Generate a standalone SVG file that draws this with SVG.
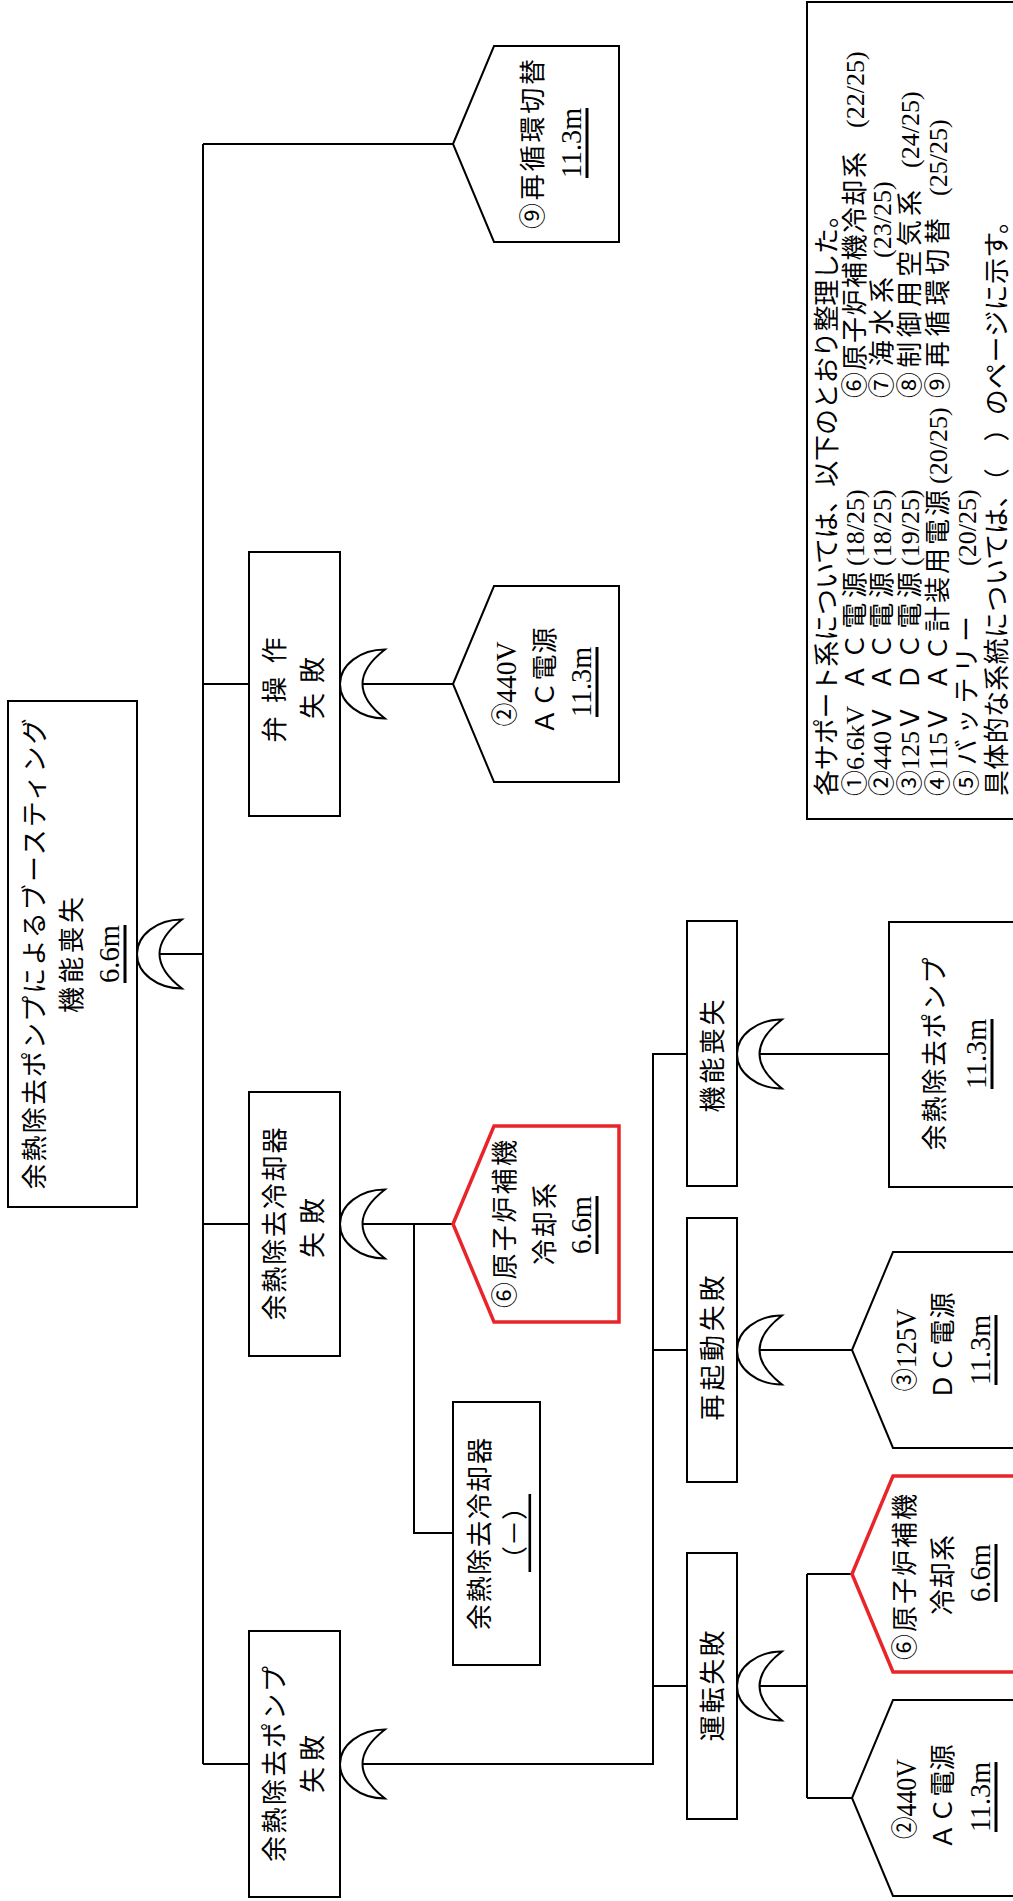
<svg xmlns="http://www.w3.org/2000/svg" width="1013" height="1901" viewBox="0 0 1013 1901">
<style>
.bx{fill:#fff;stroke:#000;stroke-width:2}
.red{fill:#fff;stroke:#e8262a;stroke-width:3.5;stroke-linejoin:miter}
.gate{fill:#fff;stroke:#000;stroke-width:2}
.cn path{fill:none;stroke:#000;stroke-width:2}
text{font-family:"Liberation Serif","Noto Sans CJK JP",serif;fill:#000;dominant-baseline:central}
.n{font-size:26px;text-anchor:middle}
.num{font-size:30px;text-anchor:middle}
.lg{font-size:26px;text-anchor:start}
.u{text-decoration:underline}
</style>
<defs>
<path id="or" class="gate" d="M45,-34.5 A45,34.5 0 0 0 45,34.5 Q0,0 45,-34.5 Z"/>
</defs>
<rect width="1013" height="1901" fill="#fff"/>

<g id="connectors" class="cn">
<path d="M203,144 V1764"/>
<path d="M203,144 H453"/>
<path d="M203,684 H249"/>
<path d="M160,954 H203"/>
<path d="M203,1224 H249"/>
<path d="M203,1764 H249"/>
<path d="M362,684 H453"/>
<path d="M362,1224 H453"/>
<path d="M414,1224 V1533 H453"/>
<path d="M362,1764 H653 V1054 H687"/>
<path d="M653,1350 H687"/>
<path d="M653,1686 H687"/>
<path d="M759,1054 H889"/>
<path d="M759,1350 H852"/>
<path d="M759,1686 H807"/>
<path d="M807,1574 V1798"/>
<path d="M807,1574 H852"/>
<path d="M807,1798 H852"/>
</g>

<g id="top-event">
<rect class="bx" x="8" y="701" width="129" height="506"/>
<use href="#or" transform="translate(137,954)"/>
<text class="n" transform="translate(35,954) rotate(-90)" textLength="471" lengthAdjust="spacing">余熱除去ポンプによるブースティング</text>
<text class="n" transform="translate(72,955) rotate(-90)" textLength="116" lengthAdjust="spacing">機能喪失</text>
<text class="num u" transform="translate(108,954) rotate(-90)" textLength="58" lengthAdjust="spacingAndGlyphs">6.6m</text>
</g>

<g id="valve-failure">
<rect class="bx" x="249" y="552" width="91" height="264"/>
<use href="#or" transform="translate(340,684)"/>
<text class="n" transform="translate(275,690) rotate(-90)" textLength="105" lengthAdjust="spacing">弁操作</text>
<text class="n" transform="translate(313,688) rotate(-90)" textLength="62" lengthAdjust="spacing">失敗</text>
</g>

<g id="cooler-failure">
<rect class="bx" x="249" y="1092" width="91" height="264"/>
<use href="#or" transform="translate(340,1224)"/>
<text class="n" transform="translate(275,1224) rotate(-90)" textLength="193" lengthAdjust="spacing">余熱除去冷却器</text>
<text class="n" transform="translate(313,1228) rotate(-90)" textLength="60" lengthAdjust="spacing">失敗</text>
</g>

<g id="pump-failure">
<rect class="bx" x="249" y="1631" width="91" height="266"/>
<use href="#or" transform="translate(340,1764)"/>
<text class="n" transform="translate(275,1764) rotate(-90)" textLength="196" lengthAdjust="spacing">余熱除去ポンプ</text>
<text class="n" transform="translate(313,1764) rotate(-90)" textLength="58" lengthAdjust="spacing">失敗</text>
</g>

<g id="support-9">
<path class="bx" d="M453,144 L494,46 L619,46 L619,242 L494,242 Z"/>
<text class="n" transform="translate(533,144) rotate(-90)" textLength="170" lengthAdjust="spacing">⑨再循環切替</text>
<text class="num u" transform="translate(570,143) rotate(-90)" textLength="70" lengthAdjust="spacingAndGlyphs">11.3m</text>
</g>

<g id="support-2a">
<path class="bx" d="M453,684 L494,586 L619,586 L619,782 L494,782 Z"/>
<text class="n" transform="translate(505,684) rotate(-90)" textLength="85" lengthAdjust="spacingAndGlyphs">②<tspan font-size="30">440V</tspan></text>
<text class="n" transform="translate(545,681) rotate(-90)" textLength="107" lengthAdjust="spacing">ＡＣ電源</text>
<text class="num u" transform="translate(580,682) rotate(-90)" textLength="70" lengthAdjust="spacingAndGlyphs">11.3m</text>
</g>

<g id="support-6a">
<path class="red" d="M453,1224 L494,1126 L619,1126 L619,1322 L494,1322 Z"/>
<text class="n" transform="translate(505,1224) rotate(-90)" textLength="168" lengthAdjust="spacing">⑥原子炉補機</text>
<text class="n" transform="translate(545,1224) rotate(-90)" textLength="82" lengthAdjust="spacing">冷却系</text>
<text class="num u" transform="translate(580,1225) rotate(-90)" textLength="58" lengthAdjust="spacingAndGlyphs">6.6m</text>
</g>

<g id="cooler">
<rect class="bx" x="453" y="1402" width="87" height="263"/>
<text class="n" transform="translate(480,1534) rotate(-90)" textLength="192" lengthAdjust="spacing">余熱除去冷却器</text>
<text class="n u" transform="translate(515,1533) rotate(-90)">（－）</text>
</g>

<g id="loss-of-function">
<rect class="bx" x="687" y="921" width="50" height="265"/>
<use href="#or" transform="translate(737,1054)"/>
<text class="n" transform="translate(713,1056) rotate(-90)" textLength="113" lengthAdjust="spacing">機能喪失</text>
</g>

<g id="pump">
<rect class="bx" x="889" y="922" width="200" height="265"/>
<text class="n" transform="translate(935,1054) rotate(-90)" textLength="193" lengthAdjust="spacing">余熱除去ポンプ</text>
<text class="num u" transform="translate(975,1054) rotate(-90)" textLength="70" lengthAdjust="spacingAndGlyphs">11.3m</text>
</g>

<g id="restart-failure">
<rect class="bx" x="687" y="1218" width="50" height="264"/>
<use href="#or" transform="translate(737,1350)"/>
<text class="n" transform="translate(713,1348) rotate(-90)" textLength="145" lengthAdjust="spacing">再起動失敗</text>
</g>

<g id="run-failure">
<rect class="bx" x="687" y="1553" width="50" height="266"/>
<use href="#or" transform="translate(737,1686)"/>
<text class="n" transform="translate(713,1686) rotate(-90)" textLength="111" lengthAdjust="spacing">運転失敗</text>
</g>

<g id="support-3">
<path class="bx" d="M852,1350 L893,1252 L1018,1252 L1018,1448 L893,1448 Z"/>
<text class="n" transform="translate(905,1350) rotate(-90)" textLength="83" lengthAdjust="spacingAndGlyphs">③<tspan font-size="30">125V</tspan></text>
<text class="n" transform="translate(943,1346) rotate(-90)" textLength="107" lengthAdjust="spacing">ＤＣ電源</text>
<text class="num u" transform="translate(979,1350) rotate(-90)" textLength="70" lengthAdjust="spacingAndGlyphs">11.3m</text>
</g>

<g id="support-6b">
<path class="red" d="M852,1574 L893,1476 L1018,1476 L1018,1672 L893,1672 Z"/>
<text class="n" transform="translate(905,1577) rotate(-90)" textLength="166" lengthAdjust="spacing">⑥原子炉補機</text>
<text class="n" transform="translate(943,1575) rotate(-90)" textLength="80" lengthAdjust="spacing">冷却系</text>
<text class="num u" transform="translate(979,1573) rotate(-90)" textLength="58" lengthAdjust="spacingAndGlyphs">6.6m</text>
</g>

<g id="support-2b">
<path class="bx" d="M852,1798 L893,1700 L1018,1700 L1018,1896 L893,1896 Z"/>
<text class="n" transform="translate(905,1799) rotate(-90)" textLength="80" lengthAdjust="spacingAndGlyphs">②<tspan font-size="30">440V</tspan></text>
<text class="n" transform="translate(943,1797) rotate(-90)" textLength="105" lengthAdjust="spacing">ＡＣ電源</text>
<text class="num u" transform="translate(979,1797) rotate(-90)" textLength="70" lengthAdjust="spacingAndGlyphs">11.3m</text>
</g>

<g id="legend">
<rect class="bx" x="807" y="2" width="260" height="817"/>
<text class="lg" transform="translate(827,796) rotate(-90)" textLength="594" lengthAdjust="spacing">各サポート系については、以下のとおり整理した。</text>
<text class="lg" transform="translate(855,796) rotate(-90)">①6.6kV</text>
<text class="lg" transform="translate(855,690) rotate(-90)" textLength="118" lengthAdjust="spacing">ＡＣ電源</text>
<text class="lg" transform="translate(855,566) rotate(-90)">(18/25)</text>
<text class="lg" transform="translate(855,398) rotate(-90)" textLength="246" lengthAdjust="spacing">⑥原子炉補機冷却系</text>
<text class="lg" transform="translate(855,128) rotate(-90)">(22/25)</text>
<text class="lg" transform="translate(882,796) rotate(-90)">②440Ｖ</text>
<text class="lg" transform="translate(882,690) rotate(-90)" textLength="118" lengthAdjust="spacing">ＡＣ電源</text>
<text class="lg" transform="translate(882,566) rotate(-90)">(18/25)</text>
<text class="lg" transform="translate(882,398) rotate(-90)" textLength="121" lengthAdjust="spacing">⑦海水系</text>
<text class="lg" transform="translate(882,258) rotate(-90)">(23/25)</text>
<text class="lg" transform="translate(910,796) rotate(-90)">③125Ｖ</text>
<text class="lg" transform="translate(910,690) rotate(-90)" textLength="118" lengthAdjust="spacing">ＤＣ電源</text>
<text class="lg" transform="translate(910,566) rotate(-90)">(19/25)</text>
<text class="lg" transform="translate(910,398) rotate(-90)" textLength="208" lengthAdjust="spacing">⑧制御用空気系</text>
<text class="lg" transform="translate(910,168) rotate(-90)">(24/25)</text>
<text class="lg" transform="translate(938,796) rotate(-90)">④115Ｖ</text>
<text class="lg" transform="translate(938,690) rotate(-90)" textLength="200" lengthAdjust="spacing">ＡＣ計装用電源</text>
<text class="lg" transform="translate(938,484) rotate(-90)">(20/25)</text>
<text class="lg" transform="translate(938,398) rotate(-90)" textLength="180" lengthAdjust="spacing">⑨再循環切替</text>
<text class="lg" transform="translate(938,196) rotate(-90)">(25/25)</text>
<text class="lg" transform="translate(967,796) rotate(-90)" textLength="180" lengthAdjust="spacing">⑤バッテリー</text>
<text class="lg" transform="translate(967,566) rotate(-90)">(20/25)</text>
<text class="lg" transform="translate(997,796) rotate(-90)" textLength="588" lengthAdjust="spacing">具体的な系統については、（　）のページに示す。</text>
</g>
</svg>
